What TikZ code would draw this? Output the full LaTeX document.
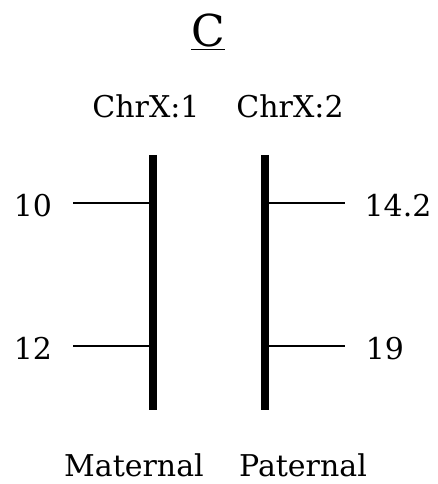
\documentclass[tikz,border=0pt]{standalone}
\usepackage{fontspec}
\setmainfont{DejaVu Serif}
\begin{document}
\begin{tikzpicture}[x=1pt,y=1pt,
  lbl/.style={anchor=base,inner sep=0pt,font=\fontsize{30}{34}\selectfont},
  chrom/.style={line width=8pt},
  tick/.style={line width=1.6pt}]
\useasboundingbox (0,0) rectangle (437,484);
\node[anchor=base,inner sep=0pt,font=\fontsize{44}{48}\selectfont] (title) at (208,437) {\setlength{\fboxrule}{0pt}\underline{C}};
\node[lbl] (c1) at (146,366) {ChrX:1};
\node[lbl] (c2) at (290,366) {ChrX:2};
\node[lbl] (mat) at (134,8) {Maternal};
\node[lbl] (pat) at (303,8) {Paternal};
\node[lbl] (l10) at (33,267) {10};
\node[lbl] (l12) at (33,124) {12};
\node[lbl] (l142) at (398,267) {14.2};
\node[lbl] (l19) at (385,124) {19};
\coordinate (m1) at (152.5,329);
\coordinate (m2) at (152.5,74);
\coordinate (p1) at (265,329);
\coordinate (p2) at (265,74);
\draw[chrom] (m1) -- (m2);
\draw[chrom] (p1) -- (p2);
\coordinate (t10a) at (73,281);
\coordinate (t10b) at (150,281);
\coordinate (t12a) at (73,138);
\coordinate (t12b) at (150,138);
\coordinate (t142a) at (268,281);
\coordinate (t142b) at (345,281);
\coordinate (t19a) at (268,138);
\coordinate (t19b) at (345,138);
\draw[tick] (t10a) -- (t10b);
\draw[tick] (t12a) -- (t12b);
\draw[tick] (t142a) -- (t142b);
\draw[tick] (t19a) -- (t19b);
\end{tikzpicture}
\end{document}
